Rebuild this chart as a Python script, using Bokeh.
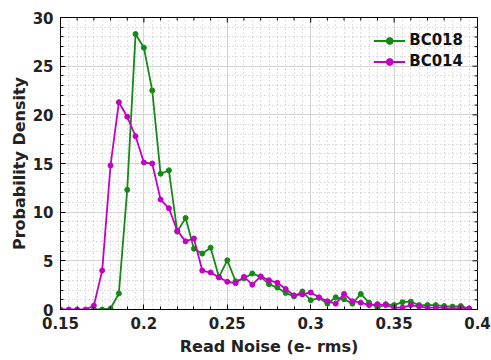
import math
from bokeh.plotting import figure
from bokeh.models import SingleIntervalTicker, Range1d, Legend, LegendItem
from bokeh.embed import file_html
from bokeh.resources import INLINE

x_bc014 = [0.150, 0.155, 0.160, 0.165, 0.170, 0.175, 0.180, 0.185, 0.190, 0.195,
           0.200, 0.205, 0.210, 0.215, 0.220, 0.225, 0.230, 0.235, 0.240, 0.245,
           0.250, 0.255, 0.260, 0.265, 0.270, 0.275, 0.280, 0.285, 0.290, 0.295,
           0.300, 0.305, 0.310, 0.315, 0.320, 0.325, 0.330, 0.335, 0.340, 0.345,
           0.350, 0.355, 0.360, 0.365, 0.370, 0.375, 0.380, 0.385, 0.390, 0.395]
y_bc014 = [0.0, 0.0, 0.0, 0.0, 0.4, 4.0, 14.8, 21.3, 19.8, 17.8,
           15.1, 15.0, 11.3, 10.4, 8.1, 7.0, 7.3, 4.0, 3.8, 3.3,
           2.85, 2.7, 3.35, 2.55, 3.4, 3.0, 2.75, 2.1, 1.45, 1.55,
           1.75, 1.25, 0.85, 0.6, 1.6, 0.85, 0.7, 0.45, 0.55, 0.45,
           0.2, 0.2, 0.45, 0.3, 0.2, 0.2, 0.2, 0.05, 0.2, 0.1]

x_bc018 = [0.170, 0.175, 0.180, 0.185, 0.190, 0.195,
           0.200, 0.205, 0.210, 0.215, 0.220, 0.225, 0.230, 0.235, 0.240, 0.245,
           0.250, 0.255, 0.260, 0.265, 0.270, 0.275, 0.280, 0.285, 0.290, 0.295,
           0.300, 0.305, 0.310, 0.315, 0.320, 0.325, 0.330, 0.335, 0.340, 0.345,
           0.350, 0.355, 0.360, 0.365, 0.370, 0.375, 0.380, 0.385, 0.390, 0.395]
y_bc018 = [0.0, 0.0, 0.1, 1.65, 12.3, 28.3,
           26.9, 22.5, 13.95, 14.3, 8.0, 9.4, 6.25, 5.75, 6.35, 3.35,
           5.05, 2.9, 3.2, 3.7, 3.35, 2.6, 2.25, 1.7, 1.35, 1.85,
           0.95, 1.2, 0.6, 1.25, 1.05, 0.6, 1.6, 0.7, 0.2, 0.55,
           0.45, 0.75, 0.8, 0.45, 0.45, 0.45, 0.35, 0.3, 0.35, 0.1]

x_ticks = [0.15, 0.2, 0.25, 0.3, 0.35, 0.4]
x_tick_labels = ["0.15", "0.2", "0.25", "0.3", "0.35", "0.4"]
x_minor_ticks = [0.16, 0.17, 0.18, 0.19, 0.21, 0.22, 0.23, 0.24, 0.26, 0.27, 0.28, 0.29,
                 0.31, 0.32, 0.33, 0.34, 0.36, 0.37, 0.38, 0.39]
y_ticks = [0, 5, 10, 15, 20, 25, 30]
y_minor_ticks = [1, 2, 3, 4, 6, 7, 8, 9, 11, 12, 13, 14, 16, 17, 18, 19, 21, 22, 23, 24,
                 26, 27, 28, 29]

GREEN = "#138a13"
MAGENTA = "#c200c6"
FONT = "DejaVu Sans"
X_MIN, X_MAX, Y_MIN, Y_MAX = 0.15, 0.4, 0, 30

p = figure(width=491, height=360, output_backend="svg", toolbar_location=None,
           x_range=Range1d(X_MIN, X_MAX), y_range=Range1d(Y_MIN, Y_MAX),
           min_border_left=60, min_border_right=14, min_border_top=17, min_border_bottom=51,
           background_fill_color="white", border_fill_color="white")

p.outline_line_color = "black"
p.outline_line_width = 1

p.xaxis.ticker = SingleIntervalTicker(interval=0.05, num_minor_ticks=5)
p.yaxis.ticker = SingleIntervalTicker(interval=5, num_minor_ticks=5)
p.xaxis.major_label_overrides = {t: l for t, l in zip(x_ticks, x_tick_labels)}

for ax in [p.xaxis[0], p.yaxis[0]]:
    ax.major_tick_in = 5
    ax.major_tick_out = 0
    ax.minor_tick_in = 3
    ax.minor_tick_out = 0
    ax.axis_line_color = "black"
    ax.major_tick_line_color = "black"
    ax.minor_tick_line_color = "black"
    ax.major_label_text_font = FONT
    ax.major_label_text_font_style = "bold"
    ax.major_label_text_font_size = "15px"
    ax.major_label_text_color = "#222222"
    ax.axis_label_text_font = FONT
    ax.axis_label_text_font_style = "bold"
    ax.axis_label_text_font_size = "16px"
    ax.axis_label_text_color = "#222222"

p.xaxis.axis_label = "Read Noise (e- rms)"
p.yaxis.axis_label = "Probability Density"
p.xaxis.major_label_standoff = 7
p.yaxis.major_label_standoff = 7
p.xaxis.axis_label_standoff = 5
p.yaxis.axis_label_standoff = 1

# grids
p.xgrid.ticker = SingleIntervalTicker(interval=0.05, num_minor_ticks=10)
p.ygrid.ticker = SingleIntervalTicker(interval=5, num_minor_ticks=5)
for g in [p.xgrid[0], p.ygrid[0]]:
    g.grid_line_color = "#d4d4d4"
    g.grid_line_width = 1
    g.minor_grid_line_color = "#bdbdbd"
    g.minor_grid_line_dash = "1 3"
    g.minor_grid_line_width = 1

# inward ticks on the right and top edges of the box (half of each dash is clipped by the frame)
p.scatter([X_MAX] * len(y_ticks), y_ticks, marker="dash", size=10, line_color="black", line_width=1)
p.scatter([X_MAX] * len(y_minor_ticks), y_minor_ticks, marker="dash", size=6, line_color="black", line_width=1)
p.scatter(x_ticks, [Y_MAX] * len(x_ticks), marker="dash", size=10, angle=math.pi / 2,
          line_color="black", line_width=1)
p.scatter(x_minor_ticks, [Y_MAX] * len(x_minor_ticks), marker="dash", size=6, angle=math.pi / 2,
          line_color="black", line_width=1)

l1 = p.line(x_bc018, y_bc018, line_color=GREEN, line_width=1.8)
c1 = p.scatter(x_bc018, y_bc018, size=5, fill_color=GREEN, line_color=GREEN)
l2 = p.line(x_bc014, y_bc014, line_color=MAGENTA, line_width=1.8)
c2 = p.scatter(x_bc014, y_bc014, size=5, fill_color=MAGENTA, line_color=MAGENTA)

legend = Legend(items=[LegendItem(label="BC018", renderers=[l1, c1]),
                       LegendItem(label="BC014", renderers=[l2, c2])],
                location="top_right")
legend.background_fill_alpha = 0
legend.border_line_alpha = 0
legend.label_text_font = FONT
legend.label_text_font_style = "bold"
legend.label_text_font_size = "15px"
legend.label_text_color = "#111111"
legend.glyph_width = 32
legend.glyph_height = 17
legend.label_height = 17
legend.spacing = 3
legend.margin = 12
legend.padding = 2
legend.label_standoff = 4
p.add_layout(legend)

open("out.html", "w").write(file_html(p, INLINE))
